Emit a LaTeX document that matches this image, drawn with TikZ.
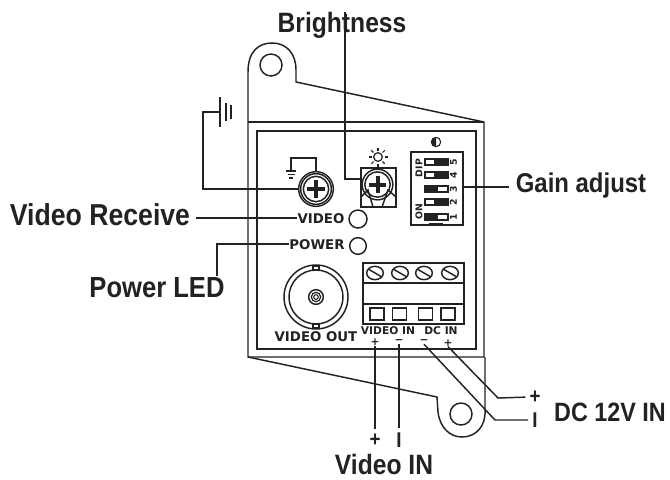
\documentclass[tikz,border=0pt]{standalone}
\usepackage{fontspec}
\setmainfont{Liberation Sans}
\newfontfamily\biglabel[FakeStretch=.88]{Liberation Sans Bold}
\newfontfamily\panelfont{DejaVu Sans Bold}
\usepackage{xcolor}
\usepackage{tikz}
\usetikzlibrary{positioning}
\usetikzlibrary{shapes.geometric}
\definecolor{ink}{HTML}{222222}
\tikzset{
  wire/.style={draw=ink, line width=1.1pt},
  thin wire/.style={draw=ink, line width=.8pt},
  big label/.style={inner sep=0pt, text=ink, font=\biglabel\fontsize{#1}{#1}\selectfont},
  panel label/.style={inner sep=0pt, text=ink, font=\panelfont\fontsize{10}{10}\selectfont},
  small label/.style={inner sep=0pt, text=ink, font=\panelfont\fontsize{8}{8}\selectfont},
  dip label/.style={inner sep=0pt, text=ink, rotate=90, font=\panelfont\fontsize{7}{7}\selectfont},
  sign label/.style={inner sep=0pt, text=ink, font=\biglabel\fontsize{16}{16}\selectfont},
  hole/.style={circle, draw=ink, line width=1.1pt, inner sep=0pt},
  crossbar/.style={draw=ink, line width=3pt},
  terminal/.style={draw=ink, line width=1.1pt, inner sep=0pt, minimum width=10.5pt, minimum height=9pt},
  screwhead/.style={ellipse, draw=ink, line width=1.1pt, inner sep=0pt, minimum width=12.5pt, minimum height=10pt},
}
\begin{document}
\begin{tikzpicture}[x=.75pt, y=-.75pt]
\useasboundingbox (0,0) rectangle (670,479);
% housing with the two tabs
\draw [wire] (248,122) -- (248,72) .. controls (248,52) and (258,43) .. (272,43) .. controls (287,43) and (296,54) .. (296,70) -- (296,82) -- (484,122) -- (484,357) -- (248,357) -- cycle;
\draw [wire] (248,122) -- (484,122);
\draw [wire] (248,357) -- (437,397) -- (438,412) .. controls (440,428) and (450,437) .. (462,437) .. controls (476,437) and (486,426) .. (485,410) -- (485,357);
\node (tophole) [hole, minimum size=16.5pt] at (271,65) {};
\node (bottomhole) [hole, minimum size=16.5pt] at (461,414) {};
\node (panel) [draw=ink, line width=1.1pt, minimum width=164pt, minimum height=163.5pt, inner sep=0pt] at (366.5,240) {};
% ground screw
\node (groundscrew) [hole, minimum size=26pt] at (316,189) {};
\node (groundring) [hole, minimum size=23pt] at (316,189) {};
\node (groundhead) [hole, minimum size=19pt] at (316,189) {};
\draw [crossbar] (307,189) -- (325,189);
\draw [crossbar] (316,180) -- (316,198);
\coordinate (groundsym) at (291,171);
\draw [wire] (groundscrew.north) -- (316,158) -- (291,158) -- (groundsym);
\draw [wire] (286,171) -- (296,171);
\draw [wire] (287.5,174.5) -- (294.5,174.5);
\draw [wire] (289,178) -- (293,178);
% earth outside the housing
\coordinate (earth) at (220,112);
\draw [wire] (groundscrew.west) -- (203,189) -- (203,112) -- (earth);
\draw [wire] (220,97) -- (220,127);
\draw [wire] (226,103) -- (226,121);
\draw [wire] (231,105) -- (231,119);
% brightness pot
\node (pot) [draw=ink, line width=1.1pt, minimum width=26.5pt, minimum height=29.5pt, inner sep=0pt] at (378.5,187.5) {};
\node (potdial) [hole, minimum size=23pt] at (377.5,184.5) {};
\node (potinner) [hole, minimum size=19pt] at (377.5,184.5) {};
\draw [crossbar] (369,184.5) -- (386,184.5);
\draw [crossbar] (377.5,176) -- (377.5,193);
\draw [wire] (361,197) -- (368,190) -- (373,207);
\draw [wire] (396,197) -- (388,190) -- (382,207);
\node (brightness) [big label=21] at (342,25) {Brightness};
\coordinate (brighttop) at (345,12);
\coordinate (potjoin) at (361,179);
\draw [wire] (brighttop) -- (345,179) -- (potjoin);
% sun sign
\node (sun) [hole, line width=.9pt, minimum size=6.5pt] at (378,157) {};
\foreach \a in {0,45,...,315}
  \draw [thin wire] (sun) ++(\a:6.5) -- ++(\a:3);
% contrast sign
\node (contrast) [hole, line width=.8pt, minimum size=7pt] at (436,142) {};
\fill [ink] (436,137.3) arc (-90:-270:4.7) -- cycle;
% dip switch
\node (dip) [draw=ink, line width=1.1pt, minimum width=39pt, minimum height=55pt, inner sep=0pt] at (437,188.5) {};
\draw [thin wire] (430,226) -- (430,224) -- (442,224) -- (442,226);
\foreach \y/\xa/\xb/\num in {162/434/448/5, 175/434/448/4, 189/425/438/3, 202/434/448/2, 217/425/438/1} {
  \draw [thin wire] (425,\y-3) rectangle (448,\y+3);
  \fill [ink] (\xa,\y-3) rectangle (\xb,\y+3);
  \node (dip\num) [dip label] at (453.5,\y) {\num};
}
\node (diptext) [dip label] at (419,168) {DIP};
\node (ontext) [dip label] at (419,212) {ON};
\node (gain) [big label=20.4] at (581,185) {Gain adjust};
\draw [wire] (dip.east |- 0,187) -- (509,187);
% status leds
\node (videotext) [panel label] at (321,219) {VIDEO};
\node (videoled) [hole, minimum size=13.5pt] at (358,219) {};
\node (powertext) [panel label] at (317,245) {POWER};
\node (powerled) [hole, minimum size=12.5pt] at (358,246) {};
\node (receive) [big label=22.7] at (100,215) {Video Receive};
\node (powerlabel) [big label=21.8] at (157,288) {Power LED};
\coordinate (receiveend) at (196,218);
\coordinate (powerend) at (217,276);
\draw [wire] (receiveend) -- (videotext.west |- receiveend);
\draw [wire] (powerend) -- (217,244) -- (powertext.west |- 0,244);
% video out connector
\node (bnc) [hole, minimum size=48pt] at (316,297) {};
\node (bncinner) [hole, minimum size=40.5pt] at (316,297) {};
\node (bnccore) [hole, minimum size=11pt] at (316,297) {};
\node (bncpin) [hole, line width=.9pt, minimum size=7pt] at (316,297) {};
\node (bncdot) [hole, line width=.8pt, minimum size=3.5pt] at (316,297) {};
\draw [thin wire] (313,266) rectangle (319,270);
\draw [thin wire] (313,324) rectangle (319,328);
\node (videoout) [panel label] at (316,337) {VIDEO OUT};
% terminal block
\node (block) [draw=ink, line width=1.1pt, minimum width=76pt, minimum height=46pt, inner sep=0pt] at (413.5,293.5) {};
\draw [wire] (block.west |- 0,283) -- (block.east |- 0,283);
\draw [wire] (block.west |- 0,304) -- (block.east |- 0,304);
\foreach \x/\t in {375/a, 400/b, 424/c, 450/d} {
  \node (screw\t) [screwhead] at (\x,273) {};
  \draw [wire] (\x-6,269.5) -- (\x+6,276.5);
}
\foreach \x/\t in {377/a, 399.5/b, 425.5/c, 448/d}
  \node (term\t) [terminal] at (\x,314) {};
\node (videoin) [small label] at (388,331) {VIDEO IN};
\node (dcin) [small label] at (441,331) {DC IN};
\node (plusa) [small label] at (375,342) {+};
\node (minusa) [small label] at (399,342) {\textminus};
\node (minusb) [small label] at (424,342) {\textminus};
\node (plusb) [small label] at (448,343) {+};
% wires below the housing
\node (videoplus) [sign label] at (375,440) {+};
\node (videominus) [sign label] at (399,440) {I};
\node (videolabel) [big label=21] at (384,464) {Video IN};
\node (dcplus) [sign label] at (535,397) {+};
\node (dcminus) [sign label] at (535,420) {I};
\node (dclabel) [big label=19.9] at (610,412) {DC 12V IN};
\draw [wire, shorten >=3pt] (plusa.south) -- (videoplus.north);
\draw [wire, shorten >=3pt] (minusa.south) -- (videominus.north);
\draw [wire, shorten >=3pt] (plusb.south) -- (498,398) -- (dcplus.west);
\draw [wire, shorten >=3pt] (minusb.south) -- (495,420) -- (dcminus.west);
\end{tikzpicture}
\end{document}
